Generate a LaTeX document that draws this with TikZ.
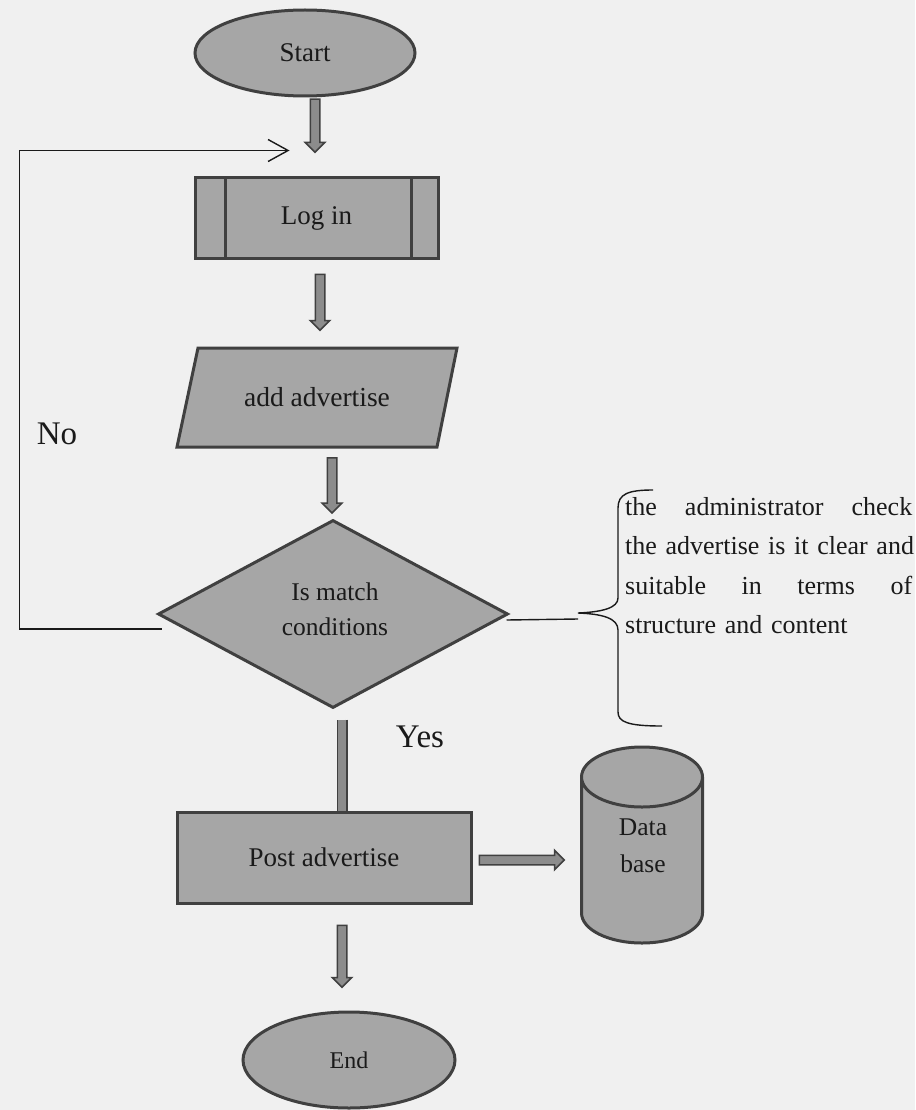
\documentclass[tikz,border=0pt]{standalone}
\usepackage{fontspec}
\setmainfont{Liberation Serif}
\usetikzlibrary{shapes.geometric,shapes.arrows,arrows.meta,calc}
\definecolor{paper}{HTML}{F0F0F0}
\definecolor{boxfill}{HTML}{A6A6A6}
\definecolor{arrowfill}{HTML}{8C8C8C}
\definecolor{boxline}{HTML}{404040}
\definecolor{ink}{HTML}{1A1A1A}

\begin{document}
\begin{tikzpicture}[x=1pt,y=-1pt,
  shapebox/.style={draw=boxline, fill=boxfill, line width=3pt, inner sep=0pt, text=ink},
  term/.style={shapebox, ellipse},
  procbox/.style={shapebox, rectangle},
  decision/.style={shapebox, diamond},
  txt/.style={text=ink, inner sep=0pt},
  flowarrow/.style={single arrow, draw=boxline, fill=arrowfill, line width=1.5pt,
    inner sep=4pt, single arrow head extend=5pt, single arrow tip angle=90,
    anchor=tail},
  thinline/.style={draw=ink, line width=1.4pt},
  bar/.style={draw=boxline, line width=1.5pt, double=arrowfill, double distance=8pt},
  fs/.style={font=\fontsize{#1}{#1}\selectfont}
]
\useasboundingbox (0,0) rectangle (915,1110);
\fill[paper] (0,0) rectangle (915,1110);

% terminals and process boxes
\node[term, minimum width=220, minimum height=86, fs=27] (start) at (305,53) {Start};
\node[procbox, minimum width=243, minimum height=80, fs=27] (login) at (316.5,218) {Log in};
\draw[boxline, line width=3pt] ($(login.north west)+(32,0)$) -- ($(login.south west)+(32,0)$);
\draw[boxline, line width=3pt] ($(login.north east)+(-28,0)$) -- ($(login.south east)+(-28,0)$);

% input / output parallelogram
\draw[shapebox] (198,348) -- (457,348) -- (437,447) -- (177,447) -- cycle;
\node[txt, minimum width=240, minimum height=99, fs=27.5] (add) at (317,397.5) {add advertise};

% decision
\node[decision, minimum width=350, minimum height=188] (cond) at (333,614) {};
\node[txt, align=center, font=\fontsize{25.5}{35}\selectfont] (condtxt) at (335,609) {Is match\\conditions};

% posting and storage
\node[procbox, minimum width=294, minimum height=91, fs=27] (post) at (324,857.5) {Post advertise};
\node[term, minimum width=212, minimum height=96, fs=24] (end) at (349,1060) {End};

\fill[boxfill] (581.5,777) -- (581.5,913) arc (180:0:60.5 and 30) -- (702.5,777) arc (0:-180:60.5 and 30) -- cycle;
\draw[boxline, line width=3pt] (581.5,777) -- (581.5,913) arc (180:0:60.5 and 30) -- (702.5,777)
  arc (0:-180:60.5 and 30) arc (180:0:60.5 and 30);
\node[txt, align=center, font=\fontsize{25.5}{37}\selectfont] (db) at (643,846) {Data\\base};

% flow arrows
\node[flowarrow, rotate=-90, minimum height=53] (a1) at ($(start.south)+(10,1)$) {};
\node[flowarrow, rotate=-90, minimum height=56] (a2) at ($(login.south)+(3.5,14)$) {};
\node[flowarrow, rotate=-90, minimum height=55] (a3) at ($(add.south)+(15,10)$) {};
\node[flowarrow, rotate=-90, minimum height=62] (a4) at ($(post.south)+(18,20)$) {};
\node[flowarrow, minimum height=85] (a5) at ($(post.east)+(6,2.5)$) {};

\coordinate (yestop) at ($(cond.south)+(9,10)$);
\draw[bar] (yestop) -- (yestop |- post.north);
\node[txt, fs=33] (yes) at (420,737) {Yes};

% loop back when the conditions are not met
\coordinate (nostart) at ($(cond.west)+(5,15)$);
\coordinate (loopend) at ($(login.north)+(-27,-26)$);
\draw[thinline, -{Straight Barb[length=20pt,width=22pt,line width=1.4pt]}]
  (nostart) -- ++(-142,0) |- (loopend);
\node[txt, fs=33] (no) at (57,434) {No};

% administrator note with brace
\coordinate (bracetip) at (578,613);
\draw[thinline] ($(cond.east)+(-3,6)$) -- ($(bracetip)+(0,6)$);
\draw[thinline] (653,490) .. controls (628,490) and (618,494) .. (618,508) -- (618,598)
  .. controls (618,608) and (602,612) .. (bracetip)
  .. controls (602,614) and (618,618) .. (618,630) -- (618,712)
  .. controls (618,722) and (628,726) .. (662,726);
\node[txt, text width=287pt, align=left, anchor=base west, font=\fontsize{26}{39.5}\selectfont] (note) at (625,515)
  {\leavevmode\hbox to 287pt{the\hfill administrator\hfill check}\\
   \leavevmode\hbox to 287pt{the advertise is it clear and}\\
   \leavevmode\hbox to 287pt{suitable\hfill in\hfill terms\hfill of}\\
   structure and content};
\end{tikzpicture}
\end{document}
